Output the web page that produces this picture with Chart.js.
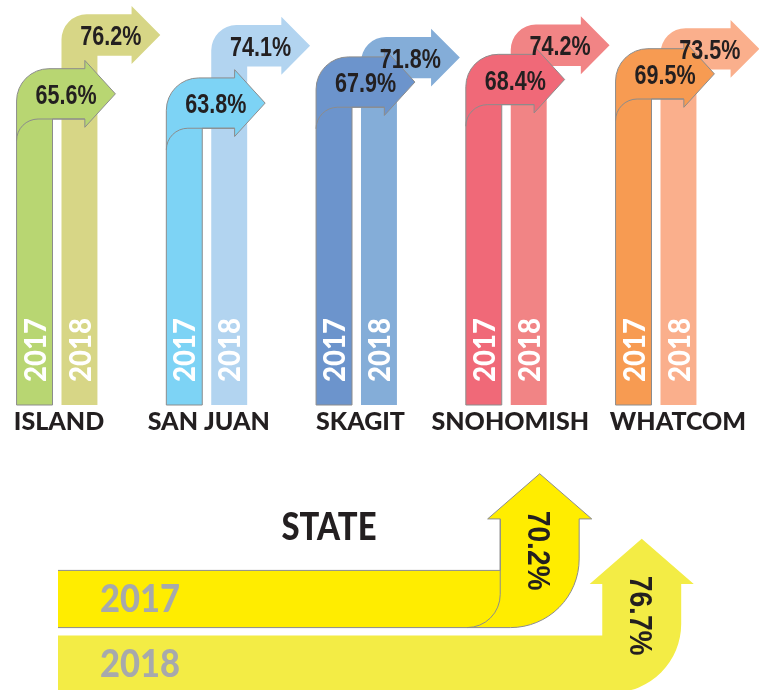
<!DOCTYPE html>
<html><head><meta charset="utf-8">
<script src="https://cdn.jsdelivr.net/npm/chart.js@4"></script>
<style>
html,body{margin:0;padding:0;background:#fff;}
#wrap{position:relative;width:759px;height:690px;overflow:hidden;}
canvas{position:absolute;left:0;top:0;}
</style>
</head><body>
<div id="wrap"><canvas id="countyChart" width="759" height="690"></canvas><canvas id="stateChart" width="759" height="690"></canvas></div>
<script>
// ---- data ----
const counties = ['ISLAND', 'SAN JUAN', 'SKAGIT', 'SNOHOMISH', 'WHATCOM'];
const years = ['2017', '2018'];
const values2017 = [65.6, 63.8, 67.9, 68.4, 69.5];
const values2018 = [76.2, 74.1, 71.8, 74.2, 73.5];
const colors2017 = ['#b8d672', '#7dd3f5', '#6c94cc', '#f06978', '#f79b52'];
const colors2018 = ['#d7d686', '#b2d4f0', '#84add8', '#f18485', '#faaf8c'];
const stateTitle = 'STATE';
const stateYears = ['2017', '2018'];
const stateValues = [70.2, 76.7];
const stateColors = ['#ffed00', '#f3ec45'];

// ---- drawing helpers ----
const DARK = '#231f20';
const OUTLINE = '#8c8c8c';
const GEO = '900 {s}px Lato, sans-serif';
const NARROW = 'bold {s}px "Liberation Sans", Arial, sans-serif';
function fontOf(tpl, size) { return tpl.replace('{s}', size); }
function drawText(ctx, text, cx, cy, size, tpl, color, sx, rot) {
  ctx.save();
  ctx.font = fontOf(tpl, size);
  ctx.fillStyle = color;
  ctx.translate(cx, cy);
  ctx.rotate(rot || 0);
  ctx.scale(sx || 1, 1);
  ctx.textAlign = 'center';
  ctx.textBaseline = 'alphabetic';
  ctx.fillText(text, 0, size * 0.36);
  ctx.restore();
}
function drawFit(ctx, text, cx, cy, size, tpl, color, targetW, rot) {
  ctx.save();
  ctx.font = fontOf(tpl, size);
  const w = ctx.measureText(text).width;
  ctx.restore();
  drawText(ctx, text, cx, cy, size, tpl, color, targetW / w, rot);
}

const shape2017 = {T: 1.4, R: 0.9, e: 0.23, hb: 0.9, tip: 1.75, ri: 0.6};
const shape2018 = {T: 1.15, R: 0.7, e: 0.23, hb: 0.95, tip: 1.75, ri: 0.6};

function countyArrow(ctx, x0, x1, base, top, s, fill, outline) {
  const w = x1 - x0;
  const T = s.T * w, R = s.R * w, e = s.e * w, ri = s.ri * w;
  const hb = x1 + s.hb * w, tip = x1 + s.tip * w;
  const bot = top + T, mid = top + T / 2;
  ctx.save();
  ctx.lineJoin = 'round';
  ctx.beginPath();
  ctx.moveTo(x1, base);
  ctx.lineTo(x0, base);
  ctx.lineTo(x0, top + R);
  ctx.arcTo(x0, top, x0 + R, top, R);
  ctx.lineTo(hb, top);
  ctx.lineTo(hb, top - e);
  ctx.lineTo(tip, mid);
  ctx.lineTo(hb, bot + e);
  ctx.lineTo(hb, bot);
  ctx.lineTo(x1, bot);
  ctx.closePath();
  ctx.fillStyle = fill;
  ctx.fill();
  if (outline) {
    ctx.strokeStyle = OUTLINE;
    ctx.lineWidth = 1;
    ctx.stroke();
    ctx.beginPath();
    ctx.moveTo(x0, bot + ri);
    ctx.arcTo(x0, bot, x0 + ri, bot, ri);
    ctx.lineTo(hb, bot);
    ctx.stroke();
  }
  ctx.restore();
  return {cx: (x0 + tip) / 2, cy: mid};
}

const countyPlugin = {
  id: 'countyArrows',
  afterDatasetsDraw(chart, args, opts) {
    const ctx = chart.ctx;
    const xs = chart.scales.x;
    const order = [1, 0];
    const shift = opts.labelShift || [];
    for (let i = 0; i < counties.length; i++) {
      const items = [];
      for (const d of order) {
        const ds = chart.data.datasets[d];
        const el = chart.getDatasetMeta(d).data[i];
        const p = el.getProps(['x', 'y', 'base', 'width'], true);
        const x0 = p.x - p.width / 2, x1 = p.x + p.width / 2;
        const c = countyArrow(ctx, x0, x1, p.base, p.y, d === 0 ? shape2017 : shape2018,
                              ds.fillColors[i], d === 0);
        items.push({ds, p, c});
      }
      for (const it of items) {
        drawFit(ctx, it.ds.label, it.p.x, it.p.base - 55, 31, GEO, '#ffffff', 64, -Math.PI / 2);
        drawText(ctx, it.ds.data[i].toFixed(1) + '%', it.c.cx, it.c.cy, 28, NARROW, DARK, 0.77, 0);
      }
      drawText(ctx, counties[i], xs.getPixelForValue(i) + (shift[i] || 0), 421, 25, GEO, DARK, 1, 0);
    }
  }
};

new Chart(document.getElementById('countyChart'), {
  type: 'bar',
  data: {
    labels: counties,
    datasets: [
      {label: years[0], data: values2017, fillColors: colors2017, backgroundColor: 'rgba(0,0,0,0)', borderWidth: 0},
      {label: years[1], data: values2018, fillColors: colors2018, backgroundColor: 'rgba(0,0,0,0)', borderWidth: 0}
    ]
  },
  options: {
    responsive: false, animation: false, devicePixelRatio: 1,
    layout: {padding: {left: 57, right: 103, top: 0, bottom: 285}},
    datasets: {bar: {categoryPercentage: 0.6, barPercentage: 0.8}},
    plugins: {legend: {display: false}, tooltip: {enabled: false},
              countyArrows: {labelShift: [2, 2, 4, 4, 22]}},
    scales: {
      x: {display: false, offset: false},
      y: {display: false, min: 0, max: 79}
    }
  },
  plugins: [countyPlugin]
});

// ---- state chart ----
const stateShape = {S: 1.38, R: 1.2, e: 0.22, hb: 0.9, tip: 1.69, ri: 0.58};
function stateArrow(ctx, xL, xV, yt, yb, s, fill, outline) {
  const t = yb - yt;
  const S = s.S * t, R = s.R * t, e = s.e * t, ri = s.ri * t;
  const xs1 = xV, xs0 = xV - S;
  const hb = yt - s.hb * t, tipY = yt - s.tip * t, midX = (xs0 + xs1) / 2;
  ctx.save();
  ctx.lineJoin = 'round';
  ctx.beginPath();
  ctx.moveTo(xL, yt);
  ctx.lineTo(xs0, yt);
  ctx.lineTo(xs0, hb);
  ctx.lineTo(xs0 - e, hb);
  ctx.lineTo(midX, tipY);
  ctx.lineTo(xs1 + e, hb);
  ctx.lineTo(xs1, hb);
  ctx.lineTo(xs1, yb - R);
  ctx.arcTo(xs1, yb, xs1 - R, yb, R);
  ctx.lineTo(xL, yb);
  ctx.fillStyle = fill;
  ctx.fill();
  if (outline) {
    ctx.strokeStyle = OUTLINE;
    ctx.lineWidth = 1;
    ctx.stroke();
    ctx.beginPath();
    ctx.moveTo(xs0, hb);
    ctx.lineTo(xs0, yb - ri);
    ctx.arcTo(xs0, yb, xs0 - ri, yb, ri);
    ctx.stroke();
  }
  ctx.restore();
  return {cx: midX, cy: (tipY + yb) / 2};
}

const statePlugin = {
  id: 'stateArrows',
  afterDatasetsDraw(chart) {
    const ctx = chart.ctx;
    const ds = chart.data.datasets[0];
    const meta = chart.getDatasetMeta(0);
    const left = chart.chartArea.left;
    for (let i = 0; i < stateValues.length; i++) {
      const p = meta.data[i].getProps(['x', 'y', 'base', 'height'], true);
      const yt = p.y - p.height / 2, yb = p.y + p.height / 2;
      const c = stateArrow(ctx, Math.max(p.base, left), p.x, yt, yb, stateShape, stateColors[i], i === 0);
      drawFit(ctx, stateYears[i], 140, p.y, 37, GEO, '#a7a9ac', 80, 0);
      drawText(ctx, ds.data[i].toFixed(1) + '%', c.cx, c.cy, 32, NARROW, DARK, 0.88, Math.PI / 2);
    }
    drawFit(ctx, stateTitle, 329, 527, 37, GEO, DARK, 95, 0);
  }
};

new Chart(document.getElementById('stateChart'), {
  type: 'bar',
  data: {
    labels: stateYears,
    datasets: [{label: stateTitle, data: stateValues, backgroundColor: 'rgba(0,0,0,0)', borderWidth: 0}]
  },
  options: {
    indexAxis: 'y',
    responsive: false, animation: false, devicePixelRatio: 1,
    layout: {padding: {left: 58, right: 26, top: 599, bottom: 26}},
    datasets: {bar: {categoryPercentage: 1, barPercentage: 0.88}},
    plugins: {legend: {display: false}, tooltip: {enabled: false}},
    scales: {
      y: {display: false, offset: false},
      x: {display: false, min: 37, max: 80}
    }
  },
  plugins: [statePlugin]
});
</script>
</body></html>
